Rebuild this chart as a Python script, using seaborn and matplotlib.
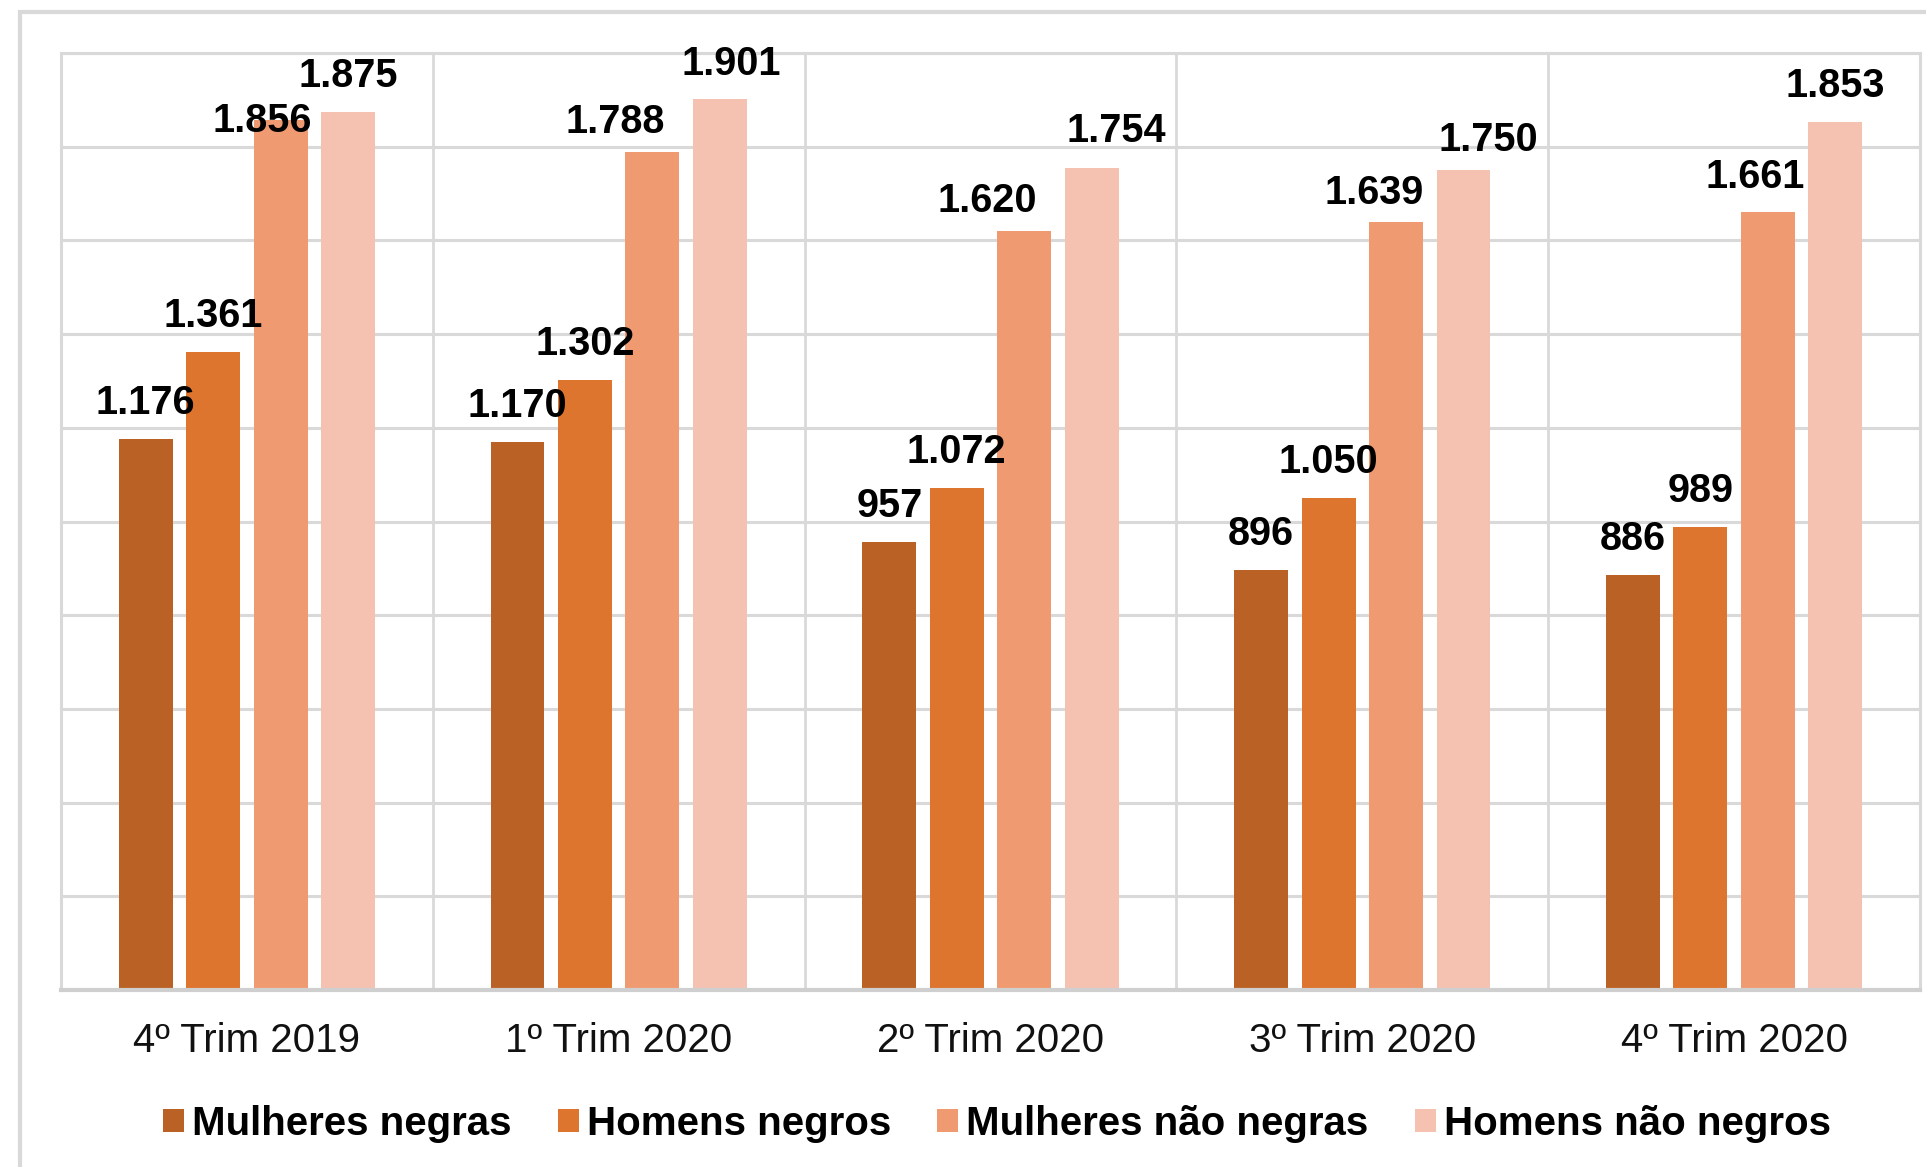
import pandas as pd
import matplotlib
matplotlib.use("Agg")
import matplotlib.pyplot as plt
from matplotlib.patches import Rectangle
import seaborn as sns

# dados (mil)
trimestres = ['4º Trim 2019', '1º Trim 2020', '2º Trim 2020', '3º Trim 2020', '4º Trim 2020']
grupos = ['Mulheres negras', 'Homens negros', 'Mulheres não negras', 'Homens não negros']
mulheres_negras = [1176, 1170, 957, 896, 886]
homens_negros = [1361, 1302, 1072, 1050, 989]
mulheres_nao_negras = [1856, 1788, 1620, 1639, 1661]
homens_nao_negros = [1875, 1901, 1754, 1750, 1853]
cores = ['#BA6125', '#DE752F', '#F09A72', '#F5C2B2']

valores = [mulheres_negras, homens_negros, mulheres_nao_negras, homens_nao_negros]
df = pd.DataFrame({
    'trimestre': trimestres * len(grupos),
    'grupo': [g for g in grupos for _ in trimestres],
    'valor': [v for serie in valores for v in serie],
})

# rotulos movidos a mao no original: (dx pt, distancia pt)
ajustes = {
    (0, 2): (-13, -8),
    (1, 2): (-27, 14),
    (1, 3): (8, 17.5),
    (2, 2): (-26.5, 14),
    (2, 3): (17.5, 19),
    (3, 2): (-16, 13),
    (3, 3): (17.5, 14),
    (4, 2): (-9, 17.5),
}

sns.set_style("white")
plt.rcParams['font.family'] = ['Liberation Sans', 'DejaVu Sans']
plt.rcParams['text.color'] = 'black'

fig = plt.figure(figsize=(19.26, 11.67), dpi=100)
ax = fig.add_axes([61 / 1926, 1 - 990 / 1167, (1920 - 61) / 1926, (990 - 53) / 1167])

sns.barplot(data=df, x='trimestre', y='valor', hue='grupo', order=trimestres,
            hue_order=grupos, palette=cores, width=0.726, saturation=1,
            linewidth=0, ax=ax)

largura = 0.145
for container in ax.containers:
    for bar in container:
        c = bar.get_x() + bar.get_width() / 2
        bar.set_width(largura)
        bar.set_x(c - largura / 2)

for j, container in enumerate(ax.containers):
    for i, bar in enumerate(container):
        v = bar.get_height()
        dx, dy = ajustes.get((i, j), (0, 18))
        ax.annotate(f"{int(v):,}".replace(',', '.'),
                    (bar.get_x() + bar.get_width() / 2, v),
                    xytext=(dx, dy), textcoords='offset points',
                    ha='center', va='baseline', fontsize=28.5,
                    fontweight='bold', color='black')

ax.set_ylim(0, 2000)
ax.set_xlim(-0.5, len(trimestres) - 0.5)
ax.set_yticks(range(0, 2001, 200))
ax.set_yticklabels([])
ax.set_xticks(range(len(trimestres)))
ax.set_xticks([i + 0.5 for i in range(len(trimestres) - 1)], minor=True)
ax.set_xlabel('')
ax.set_ylabel('')
ax.tick_params(axis='x', which='both', length=0, pad=23, labelsize=29, labelcolor='#111111')
ax.tick_params(axis='y', length=0)
ax.grid(axis='y', color='#D9D9D9', linewidth=2.2)
ax.grid(axis='x', which='minor', color='#D9D9D9', linewidth=2.0)
ax.set_axisbelow(True)
for lado in ['top', 'left', 'right']:
    ax.spines[lado].set_color('#D9D9D9')
    ax.spines[lado].set_linewidth(2.2)
ax.spines['bottom'].set_color('#CFCFCF')
ax.spines['bottom'].set_linewidth(3)

handles, labels = ax.get_legend_handles_labels()
leg = ax.legend(handles, labels, loc='center', bbox_to_anchor=(0.5176, 1 - 1124 / 1167),
                bbox_transform=fig.transFigure, ncol=4, frameon=False,
                prop={'size': 29, 'weight': 'bold'}, handlelength=0.52,
                handleheight=0.52, handletextpad=0.2, columnspacing=1.15,
                borderpad=0, borderaxespad=0)
for t in leg.get_texts():
    t.set_color('black')

# moldura externa do grafico (cortada)
fig.add_artist(Rectangle((20 / 1926, -0.1), 1.2, 1.1 - 11.5 / 1167,
                         transform=fig.transFigure, fill=False,
                         edgecolor='#D9D9D9', linewidth=3))

fig.savefig('out.png', dpi=100)
